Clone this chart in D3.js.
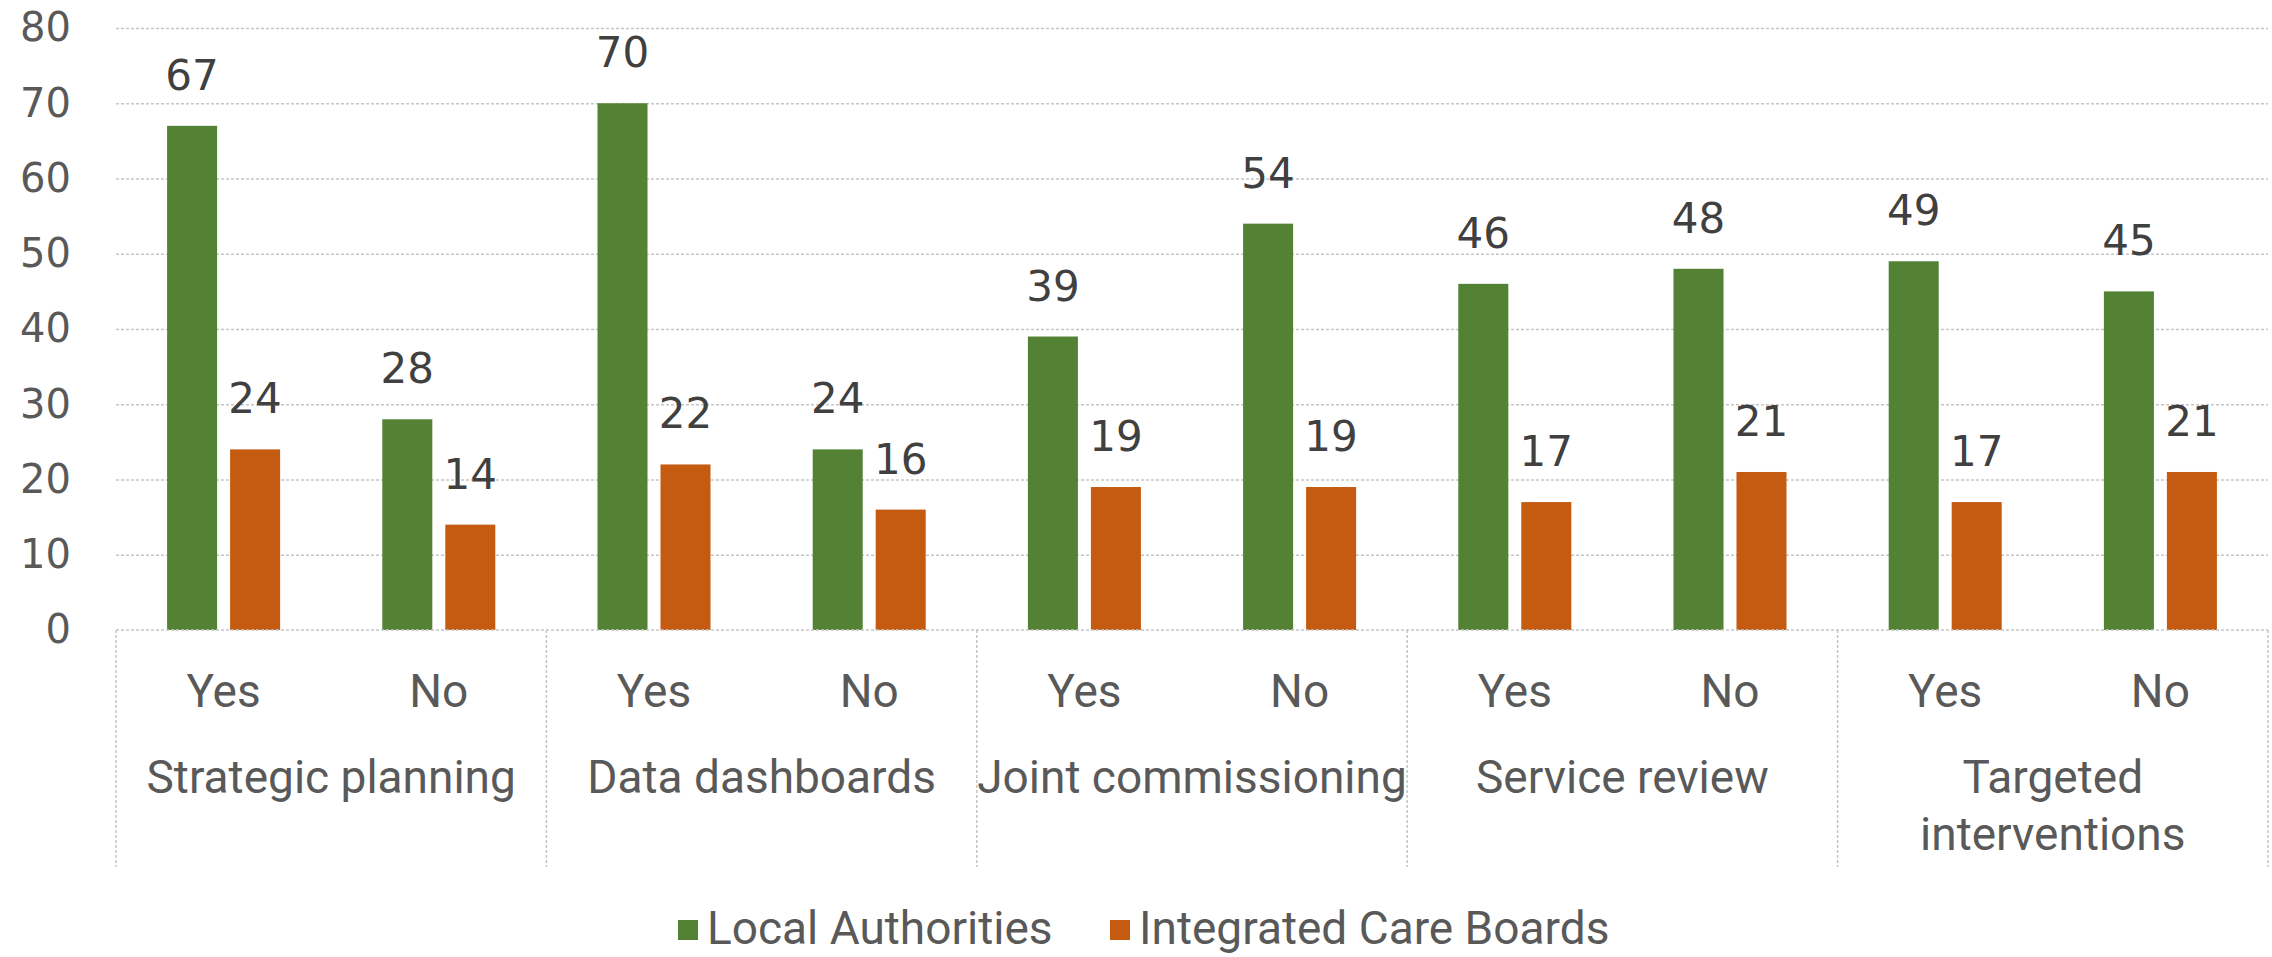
<!DOCTYPE html>
<meta charset="utf-8">
<script src="https://d3js.org/d3.v7.min.js"></script>
<style>
  body { margin: 0; background: #fff; }
</style>
<body>
<div id="canvas"></div>
<script>

  // dados do grafico ---------------------------------------------
  var categories = ["Strategic planning", "Data dashboards", "Joint commissioning", "Service review", "Targeted interventions"];
  var answers = ["Yes", "No"];
  var series = ["Local Authorities", "Integrated Care Boards"];
  // valores: [Yes, No] por categoria
  var localAuthorities = [[67, 28], [70, 24], [39, 54], [46, 48], [49, 45]];
  var careBoards = [[24, 14], [22, 16], [19, 19], [17, 21], [17, 21]];
  var yTicks = [0, 10, 20, 30, 40, 50, 60, 70, 80];
  var colors = ["#548235", "#C55A11"];

  var width = 2272;
  var height = 957;

  var svg = d3.select("#canvas")
    .append("svg")
    .attr("width", width)
    .attr("height", height);

  var plotLeft = 116, plotRight = 2268, plotTop = 28, plotBase = 630, boxBottom = 867;

  // escalas -------------------------------------------------------
  var x0 = d3.scaleBand().domain(categories).range([plotLeft, plotRight]);
  var x1 = d3.scaleBand().domain(answers).range([0, x0.bandwidth()]);
  var x2 = d3.scaleBand().domain(series).range([0, x1.bandwidth()])
    .paddingInner(0.206).paddingOuter(0.811);
  var y = d3.scaleLinear().domain([0, 80]).range([plotBase, plotTop]);

  // linhas de grade ---------------------------------------------
  var grid = svg.append("g")
    .attr("transform", "translate(" + plotLeft + ",0)")
    .call(d3.axisLeft(y).tickValues(yTicks.slice(1)).tickSize(-(plotRight - plotLeft)).tickFormat(""));
  grid.select(".domain").remove();
  grid.selectAll("line")
    .attr("stroke", "#c6c6c6")
    .attr("stroke-width", 1.5)
    .attr("stroke-dasharray", "3,2");

  // eixo Y ------------------------------------------------------
  var yAxis = svg.append("g")
    .attr("transform", "translate(" + plotLeft + ",0)")
    .call(d3.axisLeft(y).tickValues(yTicks).tickSize(0).tickPadding(45));
  yAxis.select(".domain").remove();
  yAxis.selectAll("text")
    .attr("fill", "#595959")
    .style("font-family", "DejaVu Sans")
    .style("font-size", "40px");

  // dados em linhas ----------------------------------------------
  var rows = [];
  categories.forEach(function(c, i) {
    answers.forEach(function(a, j) {
      rows.push({cat: c, ans: a, s: series[0], value: localAuthorities[i][j], color: colors[0]});
      rows.push({cat: c, ans: a, s: series[1], value: careBoards[i][j], color: colors[1]});
    });
  });
  function barX(d) { return x0(d.cat) + x1(d.ans) + x2(d.s); }

  // barras --------------------------------------------------------
  svg.selectAll(".bar")
    .data(rows)
    .enter()
    .append("rect")
    .attr("x", barX)
    .attr("y", function(d) { return y(d.value); })
    .attr("width", x2.bandwidth())
    .attr("height", function(d) { return y(0) - y(d.value); })
    .attr("fill", function(d) { return d.color; });

  // rotulos dos valores ------------------------------------------
  svg.selectAll(".val")
    .data(rows)
    .enter()
    .append("text")
    .text(function(d) { return d.value; })
    .attr("x", function(d) { return barX(d) + x2.bandwidth() / 2; })
    .attr("y", function(d) { return y(d.value) - 36; })
    .attr("text-anchor", "middle")
    .attr("fill", "#404040")
    .style("font-family", "DejaVu Sans")
    .style("font-size", "42px");

  // caixa das categorias -------------------------------------------
  var boxStyle = function(sel) {
    sel.attr("stroke", "#c6c6c6").attr("stroke-width", 1.5).attr("stroke-dasharray", "3,2");
  };
  svg.append("line")
    .attr("x1", plotLeft).attr("x2", plotRight)
    .attr("y1", y(0)).attr("y2", y(0))
    .call(boxStyle);
  var edges = categories.map(function(c) { return x0(c); }).concat([plotRight]);
  svg.selectAll(".div")
    .data(edges)
    .enter()
    .append("line")
    .attr("x1", function(d) { return d; }).attr("x2", function(d) { return d; })
    .attr("y1", y(0)).attr("y2", boxBottom)
    .call(boxStyle);

  // Yes / No ----------------------------------------------------
  var sub = [];
  categories.forEach(function(c) { answers.forEach(function(a) { sub.push({cat: c, ans: a}); }); });
  svg.selectAll(".ans")
    .data(sub)
    .enter()
    .append("text")
    .text(function(d) { return d.ans; })
    .attr("x", function(d) { return x0(d.cat) + x1(d.ans) + x1.bandwidth() / 2; })
    .attr("y", 707)
    .attr("text-anchor", "middle")
    .attr("fill", "#595959")
    .style("font-family", "Roboto")
    .style("font-size", "46px");

  // nomes das categorias (quebra em duas linhas se nao cabe) -----------
  var catText = svg.selectAll(".cat")
    .data(categories)
    .enter()
    .append("text")
    .attr("x", function(d) { return x0(d) + x0.bandwidth() / 2; })
    .attr("y", 793)
    .attr("text-anchor", "middle")
    .attr("fill", "#595959")
    .style("font-family", "Roboto")
    .style("font-size", "46px")
    .text(function(d) { return d; });

  catText.each(function(d) {
    var t = d3.select(this);
    if (this.getComputedTextLength() > x0.bandwidth() + 2) {
      var words = d.split(" ");
      var cx = t.attr("x");
      t.text(null);
      t.append("tspan").attr("x", cx).attr("y", 793).text(words[0]);
      t.append("tspan").attr("x", cx).attr("y", 850).text(words.slice(1).join(" "));
    }
  });

  // legenda -----------------------------------------------------------
  var legendX = [678, 1110];
  var legend = svg.selectAll(".leg")
    .data(series)
    .enter()
    .append("g")
    .attr("transform", function(d, i) { return "translate(" + legendX[i] + ",0)"; });
  legend.append("rect")
    .attr("x", 0).attr("y", 920)
    .attr("width", 20).attr("height", 20)
    .attr("fill", function(d, i) { return colors[i]; });
  legend.append("text")
    .text(function(d) { return d; })
    .attr("x", 29)
    .attr("y", 944)
    .attr("fill", "#595959")
    .style("font-family", "Roboto")
    .style("font-size", "46px");

</script>
</body>
